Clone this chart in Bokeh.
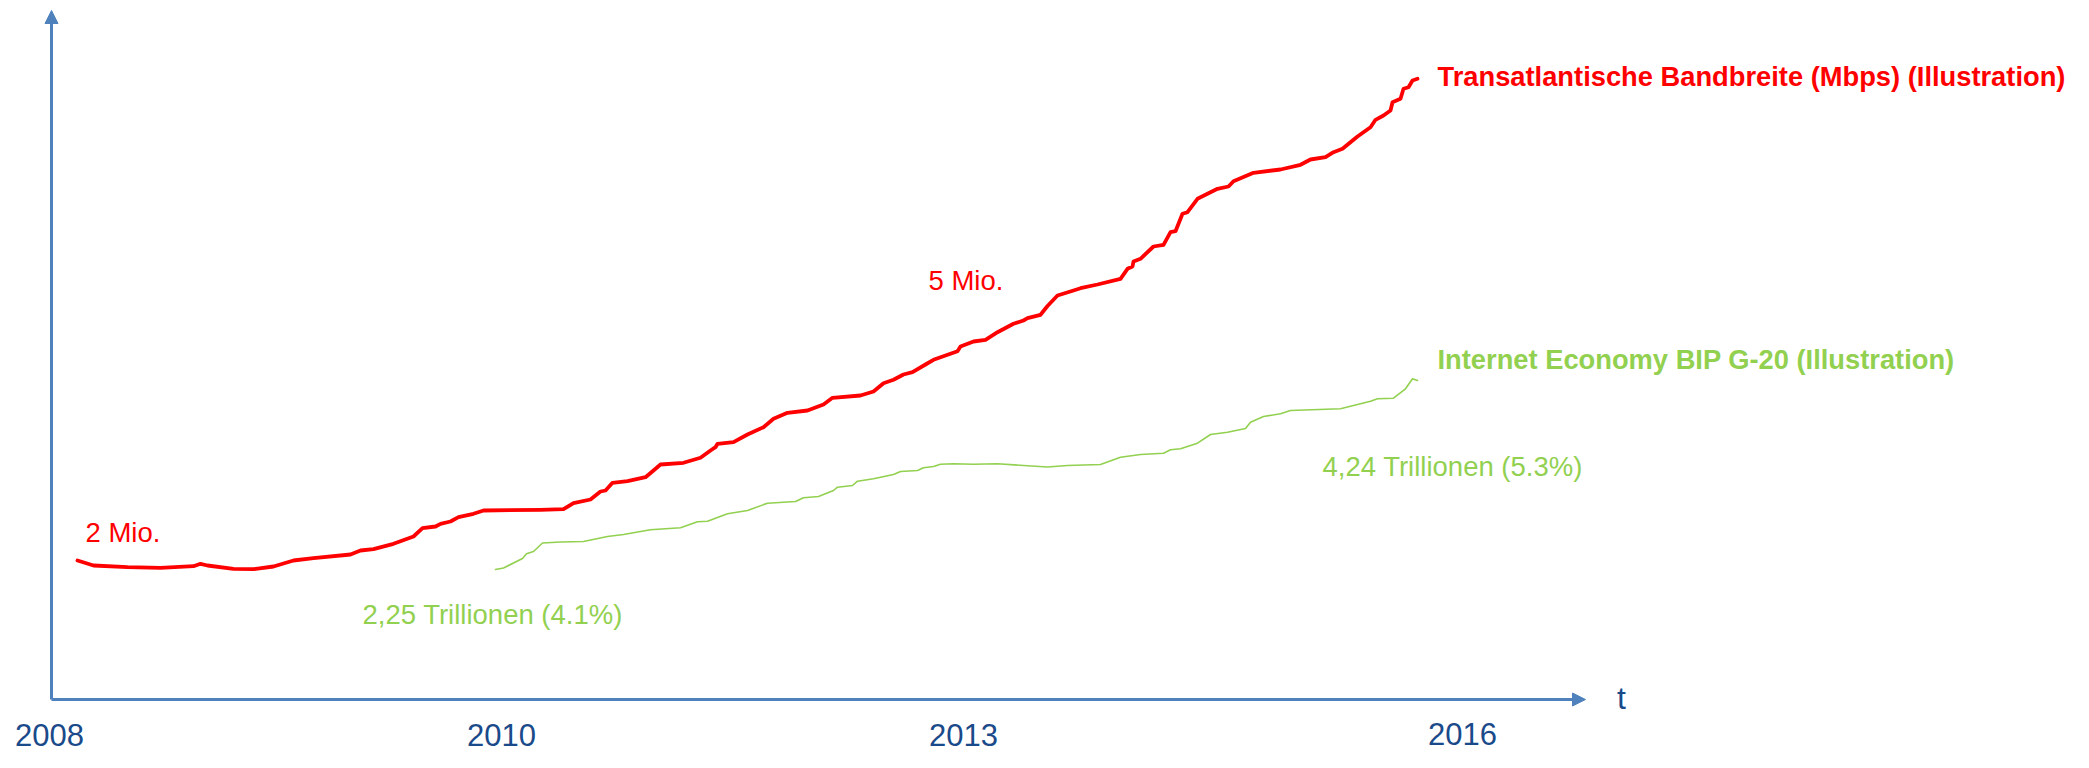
from bokeh.plotting import figure
from bokeh.models import Range1d, Arrow, NormalHead, Label, ColumnDataSource
from bokeh.core.properties import value
from bokeh.embed import file_html
from bokeh.resources import INLINE

# ---- data (illustrative units: t = time, v = value) ----
red_t = [2.6, 4.2, 7.6, 10.9, 14.2, 14.9, 15.6, 18.2, 20.2, 22.2, 24.2, 26.2, 29.9, 30.9, 32.2, 34.2,
         36.2, 37.1, 38.4, 38.9, 39.9, 40.7, 42.2, 43.2, 48.9, 51.2, 52.2, 53.9, 54.9, 55.4, 56.1, 57.6,
         59.4, 60.2, 60.9, 63.2, 64.9, 65.9, 66.4, 66.6, 68.2, 69.6, 71.2, 72.2, 73.6, 75.6, 77.2, 78.1,
         80.9, 82.2, 83.2, 84.2, 85.2, 86.1, 87.4, 88.2, 90.6, 90.9, 92.2, 93.4, 94.6, 96.2, 97.2, 97.6,
         98.9, 99.6, 100.6, 102.2, 102.9, 104.6, 106.9, 107.6, 108.1, 108.2, 108.9, 110.2, 111.2, 111.9,
         112.4, 113.1, 113.6, 114.6, 116.6, 117.7, 118.2, 120.2, 122.9, 124.9, 125.9, 127.4, 128.2, 129.1,
         130.6, 131.9, 132.4, 133.2, 133.9, 134.1, 134.9, 135.2, 135.7, 136.1, 136.6]
red_v = [13.9, 13.4, 13.23, 13.17, 13.33, 13.57, 13.4, 13.07, 13.03, 13.3, 13.9, 14.13, 14.5, 14.9, 15.03, 15.57,
         16.3, 17.13, 17.3, 17.57, 17.8, 18.23, 18.57, 18.9, 18.97, 19.03, 19.63, 20.0, 20.8, 20.9, 21.67, 21.83,
         22.23, 22.9, 23.5, 23.67, 24.17, 24.9, 25.23, 25.57, 25.73, 26.5, 27.23, 28.07, 28.67, 28.9, 29.5, 30.17,
         30.4, 30.8, 31.63, 31.97, 32.5, 32.73, 33.5, 33.97, 34.83, 35.3, 35.8, 35.97, 36.73, 37.57, 37.9, 38.13,
         38.47, 39.35, 40.4, 40.9, 41.13, 41.5, 42.07, 43.07, 43.3, 43.8, 44.07, 45.3, 45.47, 46.73,
         46.83, 48.57, 48.73, 50.07, 51.07, 51.3, 51.83, 52.67, 53.0, 53.47, 54.0, 54.23, 54.73, 55.07,
         56.3, 57.23, 57.97, 58.4, 58.9, 59.73, 60.07, 61.07, 61.23, 61.9, 62.07]

green_t = [44.4, 45.2, 47.1, 47.5, 48.2, 49.1, 50.9, 53.2, 55.6, 57.2, 59.9, 62.9, 64.6, 65.6, 67.6, 69.6,
           71.6, 74.4, 75.2, 76.7, 78.2, 78.6, 80.1, 80.6, 82.2, 84.2, 84.9, 86.6, 87.2, 88.2, 88.9, 90.2,
           92.2, 94.6, 97.6, 99.6, 101.6, 104.9, 106.9, 108.9, 111.2, 111.9, 112.9, 114.6, 115.9, 117.6,
           119.4, 119.9, 121.2, 122.9, 123.9, 128.9, 130.6, 131.9, 132.6, 134.2, 135.4, 136.1, 136.6]
green_v = [13.0, 13.15, 14.1, 14.57, 14.8, 15.65, 15.75, 15.8, 16.3, 16.5, 16.97, 17.17, 17.77, 17.83, 18.57, 18.9,
           19.63, 19.8, 20.17, 20.3, 20.9, 21.23, 21.4, 21.83, 22.07, 22.5, 22.8, 22.9, 23.17, 23.3, 23.53, 23.57,
           23.53, 23.57, 23.37, 23.25, 23.4, 23.5, 24.23, 24.5, 24.63, 24.97, 25.07, 25.63, 26.5, 26.73,
           27.1, 27.73, 28.3, 28.57, 28.9, 29.07, 29.5, 29.83, 30.07, 30.13, 31.07, 32.07, 31.9]

year_labels = ["2008", "2010", "2013", "2016"]
year_pos = [-0.2, 45.0, 91.2, 141.1]
year_base = [-3.55, -3.55, -3.55, -3.4]

RED = "#FF0000"
GREEN = "#92D050"
AXIS = "#4F81BD"
DARK = "#1A4A8A"
FONT_NAME = "Liberation Sans"

p = figure(width=2073, height=752, output_backend="svg", toolbar_location=None,
           x_range=Range1d(-5.1, 202.2), y_range=Range1d(-5.3, 69.9),
           x_axis_type=None, y_axis_type=None, min_border=0)
p.outline_line_color = None
p.grid.visible = False
p.background_fill_color = "white"
p.border_fill_color = "white"

# axes as arrows
p.add_layout(Arrow(end=NormalHead(size=13, fill_color=AXIS, line_color=AXIS),
                   x_start=0, y_start=0, x_end=153.4, y_end=0,
                   line_color=AXIS, line_width=3))
p.add_layout(Arrow(end=NormalHead(size=13, fill_color=AXIS, line_color=AXIS),
                   x_start=0, y_start=0, x_end=0, y_end=68.9,
                   line_color=AXIS, line_width=3))

# series
p.line(red_t, red_v, line_color=RED, line_width=3.8, line_join="round", line_cap="round")
p.line(green_t, green_v, line_color=GREEN, line_width=1.6, line_join="round", line_cap="round")

# year labels
ysrc = ColumnDataSource(dict(x=year_pos, y=year_base, text=year_labels))
p.text(x="x", y="y", text="text", source=ysrc, text_font=value(FONT_NAME), text_font_size="31px",
       text_color=DARK, text_align="center", text_baseline="alphabetic")

def lab(x, y, txt, color, size="27.5px", bold=False, align="left"):
    p.add_layout(Label(x=x, y=y, text=txt, text_color=color, text_font=FONT_NAME,
                       text_font_size=size, text_font_style="bold" if bold else "normal",
                       text_align=align, text_baseline="alphabetic"))

lab(157.0, 0.2, "t", DARK, size="32px", align="center")
lab(3.4, 16.75, "2 Mio.", RED)
lab(87.7, 41.95, "5 Mio.", RED)
lab(31.1, 8.5, "2,25 Trillionen (4.1%)", GREEN)
lab(127.1, 23.3, "4,24 Trillionen (5.3%)", GREEN)
lab(138.6, 62.35, "Transatlantische Bandbreite (Mbps) (Illustration)", RED, size="27.3px", bold=True)
lab(138.6, 34.05, "Internet Economy BIP G-20 (Illustration)", GREEN, size="27.3px", bold=True)

open("out.html", "w").write(file_html(p, INLINE))
